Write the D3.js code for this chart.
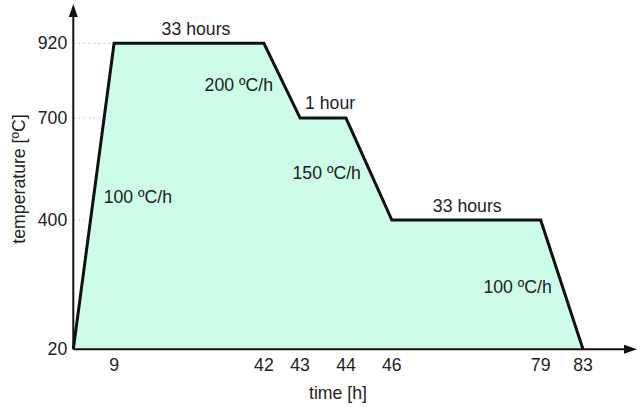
<!DOCTYPE html>
<html>
<head>
<meta charset="utf-8">
<script src="https://cdn.jsdelivr.net/npm/d3@7"></script>
<style>
  html, body { margin: 0; padding: 0; background: #fff; }
  svg { display: block; }
  text { font-family: "Liberation Sans", Arial, sans-serif; fill: #222; }
</style>
</head>
<body>
<svg id="chart" width="637" height="407"></svg>
<script>
// ---- data ----
const time = [0, 9, 42, 43, 44, 46, 79, 83];
const temperature = [20, 920, 920, 700, 700, 400, 400, 20];
const xTickValues = [9, 42, 43, 44, 46, 79, 83];
const yTickValues = [20, 400, 700, 920];
const segmentLabels = ["100 ºC/h", "33 hours", "200 ºC/h", "1 hour", "150 ºC/h", "33 hours", "100 ºC/h"];
const xTitle = "time [h]";
const yTitle = "temperature [ºC]";

(function () {
// ---- layout ----
const plotLeft = 73.3, plotRight = 583, plotTop = 43.3, plotBottom = 349.3;
const fs = 17.7;

// schematic (piecewise) time axis: relative widths of each segment
const segFrac = [0, 0.08, 0.374, 0.445, 0.535, 0.625, 0.917, 1];
const x = d3.scaleLinear()
  .domain(time)
  .range(segFrac.map(f => plotLeft + f * (plotRight - plotLeft)));
const y = d3.scaleLinear().domain([20, 920]).range([plotBottom, plotTop]);

const svg = d3.select("#chart");
const pts = time.map((t, i) => [t, temperature[i]]);

// grid lines (from axes to the curve)
const grid = svg.append("g").attr("stroke", "#c4c4c4").attr("stroke-width", 1)
  .attr("stroke-dasharray", "2,3");
yTickValues.filter(v => v !== 20).forEach(v => {
  const i = temperature.indexOf(v);
  grid.append("line")
    .attr("x1", x(0)).attr("x2", x(time[i]))
    .attr("y1", y(v)).attr("y2", y(v));
});
xTickValues.forEach(t => {
  const i = time.indexOf(t);
  grid.append("line")
    .attr("x1", x(t)).attr("x2", x(t))
    .attr("y1", y(20)).attr("y2", y(temperature[i]));
});

// area
const area = d3.area().x(d => x(d[0])).y0(y(20)).y1(d => y(d[1]));
svg.append("path").datum(pts).attr("d", area)
  .attr("fill", "#c6fce5").attr("fill-opacity", 0.88);

// curve
const line = d3.line().x(d => x(d[0])).y(d => y(d[1]));
svg.append("path").datum(pts).attr("d", line)
  .attr("fill", "none").attr("stroke", "#111").attr("stroke-width", 3)
  .attr("stroke-linejoin", "miter");

// axes with arrows
const ax = svg.append("g");
ax.append("line").attr("x1", plotLeft).attr("x2", plotLeft).attr("y1", plotBottom).attr("y2", 12)
  .attr("stroke", "#111").attr("stroke-width", 2);
ax.append("path").attr("d", `M${plotLeft},4 L${plotLeft - 4.5},17 L${plotLeft + 4.5},17 Z`).attr("fill", "#111");
ax.append("line").attr("x1", plotLeft).attr("x2", 628).attr("y1", plotBottom).attr("y2", plotBottom)
  .attr("stroke", "#111").attr("stroke-width", 2);
ax.append("path").attr("d", `M637,${plotBottom} L624,${plotBottom - 4.5} L624,${plotBottom + 4.5} Z`).attr("fill", "#111");

// tick labels
svg.append("g").selectAll("text").data(yTickValues).join("text")
  .attr("x", plotLeft - 6).attr("y", d => y(d) + 6)
  .attr("text-anchor", "end").attr("font-size", fs).text(d => d);
svg.append("g").selectAll("text").data(xTickValues).join("text")
  .attr("x", d => x(d)).attr("y", plotBottom + 22)
  .attr("text-anchor", "middle").attr("font-size", fs).text(d => d);

// axis titles
svg.append("text").attr("x", 338).attr("y", 399)
  .attr("text-anchor", "middle").attr("font-size", fs).text(xTitle);
svg.append("text").attr("transform", "translate(25,179) rotate(-90)")
  .attr("text-anchor", "middle").attr("font-size", fs).text(yTitle);

// segment annotations (placement offsets relative to segment midpoint)
const labelStyle = [
  { anchor: "start", dx: 10, dy: 7 },
  { anchor: "middle", dx: 7, dy: -8 },
  { anchor: "end", dx: -9, dy: 10 },
  { anchor: "middle", dx: 7, dy: -9 },
  { anchor: "end", dx: -8, dy: 10 },
  { anchor: "middle", dx: 1, dy: -8 },
  { anchor: "end", dx: -10, dy: 8 }
];
svg.append("g").selectAll("text").data(segmentLabels).join("text")
  .attr("x", (d, i) => (x(time[i]) + x(time[i + 1])) / 2 + labelStyle[i].dx)
  .attr("y", (d, i) => (y(temperature[i]) + y(temperature[i + 1])) / 2 + labelStyle[i].dy)
  .attr("text-anchor", (d, i) => labelStyle[i].anchor)
  .attr("font-size", fs).text(d => d);
})();
</script>
</body>
</html>
